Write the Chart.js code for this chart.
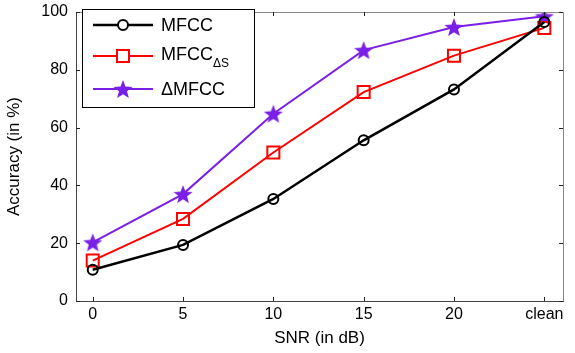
<!DOCTYPE html>
<html><head><meta charset="utf-8">
<script src="https://cdn.jsdelivr.net/npm/chart.js@4.4.0/dist/chart.umd.min.js"></script>
<style>html,body{margin:0;padding:0;background:#fff}#w{width:575px;height:353px}</style>
</head><body><div id="w"><canvas id="c" width="575" height="353"></canvas></div>
<script>
const categories = ['0','5','10','15','20','clean'];
const mfcc = [10.8, 19.4, 35.3, 55.6, 73.2, 96.5];
const mfccDS = [14.0, 28.4, 51.4, 72.3, 84.9, 94.5];
const dMfcc = [20.3, 37.0, 64.8, 86.8, 94.8, 98.5];
const yTicks = [0, 20, 40, 60, 80, 100];

const PURPLE = '#7a1fe6';
const FONT = '"Liberation Sans", Arial, sans-serif';

function starImage(size, color) {
  const c = document.createElement('canvas');
  c.width = size; c.height = size;
  const g = c.getContext('2d');
  const cx = size/2, cy = size/2 + 1, R = size/2, r = R*0.42;
  g.beginPath();
  for (let i = 0; i < 10; i++) {
    const a = -Math.PI/2 + i*Math.PI/5;
    const rr = i % 2 === 0 ? R : r;
    const px = cx + rr*Math.cos(a), py = cy + rr*Math.sin(a);
    i === 0 ? g.moveTo(px, py) : g.lineTo(px, py);
  }
  g.closePath();
  g.fillStyle = color; g.fill();
  return c;
}
const star = starImage(20, PURPLE);

const toPts = arr => arr.map((v, i) => ({x: i, y: v}));

const boxPlugin = {
  id: 'box',
  afterDraw(chart) {
    const {ctx, chartArea: a, scales} = chart;
    ctx.save();
    ctx.lineWidth = 1;
    ctx.beginPath();
    ctx.strokeStyle = '#888';
    ctx.moveTo(a.left, a.top + 0.5); ctx.lineTo(a.right + 0.5, a.top + 0.5); ctx.lineTo(a.right + 0.5, a.bottom);
    ctx.stroke();
    ctx.strokeStyle = '#222';
    ctx.beginPath();
    categories.forEach((_, i) => {
      const x = Math.round(scales.x.getPixelForValue(i)) + 0.5;
      ctx.moveTo(x, a.bottom); ctx.lineTo(x, a.bottom - 4);
      ctx.moveTo(x, a.top); ctx.lineTo(x, a.top + 4);
    });
    yTicks.forEach(v => {
      const y = Math.round(scales.y.getPixelForValue(v)) + 0.5;
      ctx.moveTo(a.left, y); ctx.lineTo(a.left + 4, y);
      ctx.moveTo(a.right, y); ctx.lineTo(a.right - 4, y);
    });
    ctx.stroke();

    const lx = 82.5, ly = 9.5, lw = 172, lh = 98;
    ctx.fillStyle = '#fff';
    ctx.fillRect(lx, ly, lw, lh);
    ctx.strokeStyle = '#000';
    ctx.strokeRect(lx, ly, lw, lh);
    const rows = [25, 56, 89];
    chart.data.datasets.forEach((ds, i) => {
      const y = rows[i];
      ctx.strokeStyle = ds.borderColor;
      ctx.lineWidth = ds.borderWidth;
      ctx.beginPath(); ctx.moveTo(93, y); ctx.lineTo(153, y); ctx.stroke();
      if (ds.pointStyle === 'circle') {
        ctx.lineWidth = 2; ctx.fillStyle = '#fff';
        ctx.beginPath(); ctx.arc(123, y, 5, 0, Math.PI*2); ctx.fill(); ctx.stroke();
      } else if (ds.pointStyle === 'rect') {
        ctx.lineWidth = 2; ctx.fillStyle = '#fff';
        ctx.fillRect(117, y - 6, 12, 12); ctx.strokeRect(117, y - 6, 12, 12);
      } else {
        ctx.drawImage(star, 113, y - 10);
      }
      ctx.fillStyle = '#000';
      ctx.textBaseline = 'middle';
      ctx.textAlign = 'left';
      ctx.font = '18px ' + FONT;
      if (i === 1) {
        ctx.fillText('MFCC', 161, y - 1);
        const w = ctx.measureText('MFCC').width;
        ctx.font = '12px ' + FONT;
        ctx.fillText('ΔS', 161 + w, y + 8);
      } else {
        ctx.fillText(ds.label, 161, y + 1);
      }
    });
    ctx.restore();
  }
};

new Chart(document.getElementById('c'), {
  type: 'line',
  data: {
    datasets: [
      {label: 'MFCC', data: toPts(mfcc), borderColor: '#000', borderWidth: 2.5,
       pointStyle: 'circle', pointRadius: 5, pointBorderWidth: 2, pointBackgroundColor: 'rgba(255,255,255,0)', pointBorderColor: '#000'},
      {label: 'MFCC_ΔS', data: toPts(mfccDS), borderColor: '#ff0000', borderWidth: 2,
       pointStyle: 'rect', pointRadius: 8.5, pointBorderWidth: 2, pointBackgroundColor: 'rgba(255,255,255,0)', pointBorderColor: '#ff0000'},
      {label: 'ΔMFCC', data: toPts(dMfcc), borderColor: PURPLE, borderWidth: 2,
       pointStyle: star, pointRadius: 10, pointBackgroundColor: PURPLE, pointBorderColor: PURPLE}
    ]
  },
  options: {
    responsive: false, animation: false,
    layout: {padding: {top: 9, right: 4, left: 0, bottom: 0}},
    plugins: {legend: {display: false}, tooltip: {enabled: false}},
    scales: {
      x: {
        type: 'linear', min: -0.185, max: 5.207,
        afterBuildTicks: s => { s.ticks = categories.map((_, i) => ({value: i})); },
        afterFit: s => { s.height = 52; s.paddingLeft = 0; s.paddingRight = 0; },
        grid: {display: false, drawTicks: false},
        border: {display: true, color: '#444', width: 1},
        ticks: {color: '#000', font: {family: FONT, size: 16}, padding: 4,
                callback: v => categories[v]},
        title: {display: true, text: 'SNR (in dB)', color: '#000', font: {family: FONT, size: 17}, padding: {top: 1}}
      },
      y: {
        min: 0, max: 100,
        afterBuildTicks: s => { s.ticks = yTicks.map(v => ({value: v})); },
        afterFit: s => { s.width = 76; s.paddingTop = 0; s.paddingBottom = 0; },
        grid: {display: false, drawTicks: false},
        border: {display: true, color: '#444', width: 1},
        ticks: {color: '#000', font: {family: FONT, size: 16}, padding: 8},
        title: {display: true, text: 'Accuracy (in %)', color: '#000', font: {family: FONT, size: 17}, padding: {bottom: 2}}
      }
    }
  },
  plugins: [boxPlugin]
});
</script>
</body></html>
